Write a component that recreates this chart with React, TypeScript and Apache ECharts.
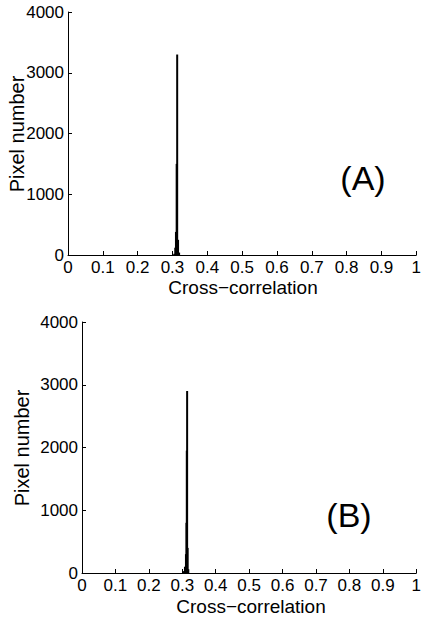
import React, { useEffect, useRef } from "react";
import * as echarts from "echarts";

const xTicks = [0, 0.1, 0.2, 0.3, 0.4, 0.5, 0.6, 0.7, 0.8, 0.9, 1];
const yTicks = [0, 1000, 2000, 3000, 4000];

const binsA = [0.305, 0.308, 0.310, 0.312, 0.3135, 0.316, 0.319];
const countsA = [20, 120, 380, 1500, 3300, 250, 40];

const binsB = [0.305, 0.308, 0.311, 0.3125, 0.3135, 0.3145, 0.316, 0.318];
const countsB = [30, 100, 300, 800, 1950, 2900, 400, 60];

const FONT = "Liberation Sans, Arial, Helvetica, sans-serif";

function xAxisCfg(gridIndex: number) {
  return {
    type: "value",
    gridIndex,
    min: xTicks[0],
    max: xTicks[xTicks.length - 1],
    interval: 0.1,
    axisLine: { show: true, lineStyle: { color: "#000", width: 1 } },
    axisTick: { show: true, inside: true, length: 4, lineStyle: { color: "#000" } },
    axisLabel: {
      color: "#000",
      fontSize: 17,
      fontFamily: FONT,
      margin: 4,
      formatter: (v: number) => String(Math.round(v * 10) / 10),
    },
    splitLine: { show: false },
  };
}

function yAxisCfg(gridIndex: number) {
  return {
    type: "value",
    gridIndex,
    min: yTicks[0],
    max: yTicks[yTicks.length - 1],
    interval: 1000,
    axisLine: { show: true, lineStyle: { color: "#000", width: 1 } },
    axisTick: { show: true, inside: true, length: 4, lineStyle: { color: "#000" } },
    axisLabel: {
      color: "#000",
      fontSize: 17,
      fontFamily: FONT,
      margin: 4,
      formatter: (v: number) => String(v),
    },
    splitLine: { show: false },
  };
}

export default function App() {
  const ref = useRef<HTMLDivElement>(null);
  useEffect(() => {
    document.body.style.margin = "0";
    if (!ref.current) return;
    const chart = echarts.init(ref.current, null, { renderer: "svg" });
    const textStyle = { fill: "#000", fontFamily: FONT };
    chart.setOption({
      animation: false,
      backgroundColor: "#fff",
      grid: [
        { left: 68, right: 4, top: 12, height: 243 },
        { left: 82, right: 4, top: 322, height: 251 },
      ],
      xAxis: [xAxisCfg(0), xAxisCfg(1)],
      yAxis: [yAxisCfg(0), yAxisCfg(1)],
      series: [
        {
          type: "bar",
          xAxisIndex: 0,
          yAxisIndex: 0,
          barWidth: 2,
          itemStyle: { color: "#000" },
          data: binsA.map((b, i) => [b, countsA[i]]),
        },
        {
          type: "bar",
          xAxisIndex: 1,
          yAxisIndex: 1,
          barWidth: 2,
          itemStyle: { color: "#000" },
          data: binsB.map((b, i) => [b, countsB[i]]),
        },
      ],
      graphic: [
        {
          type: "text",
          x: 17,
          y: 134,
          rotation: Math.PI / 2,
          style: { ...textStyle, text: "Pixel number", fontSize: 20, align: "center", verticalAlign: "middle" },
        },
        {
          type: "text",
          x: 22,
          y: 448,
          rotation: Math.PI / 2,
          style: { ...textStyle, text: "Pixel number", fontSize: 20, align: "center", verticalAlign: "middle" },
        },
        {
          type: "text",
          x: 243,
          y: 287,
          style: { ...textStyle, text: "Cross\u2212correlation", fontSize: 19, align: "center", verticalAlign: "middle" },
        },
        {
          type: "text",
          x: 251,
          y: 606,
          style: { ...textStyle, text: "Cross\u2212correlation", fontSize: 19, align: "center", verticalAlign: "middle" },
        },
        {
          type: "text",
          x: 363,
          y: 178,
          style: { ...textStyle, text: "(A)", fontSize: 34, align: "center", verticalAlign: "middle" },
        },
        {
          type: "text",
          x: 349,
          y: 515,
          style: { ...textStyle, text: "(B)", fontSize: 34, align: "center", verticalAlign: "middle" },
        },
      ],
    });
    return () => chart.dispose();
  }, []);
  return <div ref={ref} style={{ width: 424, height: 620 }} />;
}
